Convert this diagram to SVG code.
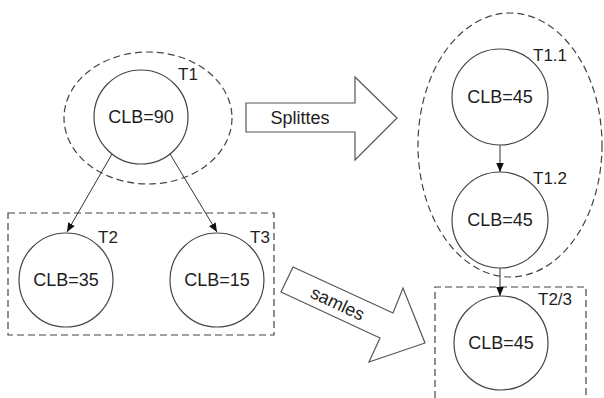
<svg xmlns="http://www.w3.org/2000/svg" width="604" height="398" viewBox="0 0 604 398">
  <defs>
    <marker id="arrow" markerWidth="10" markerHeight="10" refX="9" refY="5" orient="auto" markerUnits="userSpaceOnUse">
      <path d="M0,1.2 L9,5 L0,8.8 Z" fill="#111"/>
    </marker>
    <style>
      .node { fill: #fff; stroke: #444; stroke-width: 1.2; }
      .group { fill: none; stroke: #444; stroke-width: 1.2; stroke-dasharray: 7 4; }
      .big { fill: #fff; stroke: #555; stroke-width: 1.2; }
      .edge { stroke: #333; stroke-width: 1; fill: none; }
      text { font-family: "Liberation Sans", Arial, sans-serif; fill: #1e1e1e; }
      .val { font-size: 18px; text-anchor: middle; }
      .lab { font-size: 17px; }
    </style>
  </defs>

  <!-- grouping outlines -->
  <g id="groups">
    <ellipse class="group" cx="148" cy="118" rx="84" ry="66"/>
    <rect class="group" x="8" y="213" width="266" height="122"/>
    <ellipse class="group" cx="510" cy="145" rx="92" ry="132"/>
    <path class="group" d="M435,398 V287 H586 V398"/>
  </g>

  <!-- connectors -->
  <g id="connectors">
    <line class="edge" x1="112" y1="154" x2="67" y2="232" marker-end="url(#arrow)"/>
    <line class="edge" x1="170" y1="154" x2="217" y2="232" marker-end="url(#arrow)"/>
    <line class="edge" x1="500" y1="145" x2="500" y2="172" marker-end="url(#arrow)"/>
    <line class="edge" x1="500" y1="268" x2="500" y2="296" marker-end="url(#arrow)"/>
  </g>

  <!-- block arrows -->
  <g id="splittes">
    <polygon class="big" points="246,103 355,103 355,77 397,118 355,160 355,132 246,132"/>
    <text class="val" x="300" y="124">Splittes</text>
  </g>
  <g id="samles">
    <polygon class="big" points="293,267 393,313 403,288 425,343 369,362 380,338 281,292"/>
    <text class="val" transform="translate(335,309) rotate(25)" x="0" y="0">samles</text>
  </g>

  <!-- nodes -->
  <g id="T1">
    <circle class="node" cx="141" cy="117" r="47"/>
    <text class="val" x="141" y="123">CLB=90</text>
    <text class="lab" x="178" y="80">T1</text>
  </g>
  <g id="T2">
    <circle class="node" cx="66" cy="280" r="47"/>
    <text class="val" x="66" y="286">CLB=35</text>
    <text class="lab" x="98" y="243">T2</text>
  </g>
  <g id="T3">
    <circle class="node" cx="217" cy="280" r="47"/>
    <text class="val" x="217" y="286">CLB=15</text>
    <text class="lab" x="250" y="243">T3</text>
  </g>
  <g id="T1.1">
    <circle class="node" cx="500" cy="97" r="48"/>
    <text class="val" x="500" y="103">CLB=45</text>
    <text class="lab" x="533" y="61">T1.1</text>
  </g>
  <g id="T1.2">
    <circle class="node" cx="500" cy="220" r="48"/>
    <text class="val" x="500" y="226">CLB=45</text>
    <text class="lab" x="533" y="184">T1.2</text>
  </g>
  <g id="T2-3">
    <circle class="node" cx="501" cy="343" r="47"/>
    <text class="val" x="501" y="349">CLB=45</text>
    <text class="lab" x="538" y="305">T2/3</text>
  </g>
</svg>
